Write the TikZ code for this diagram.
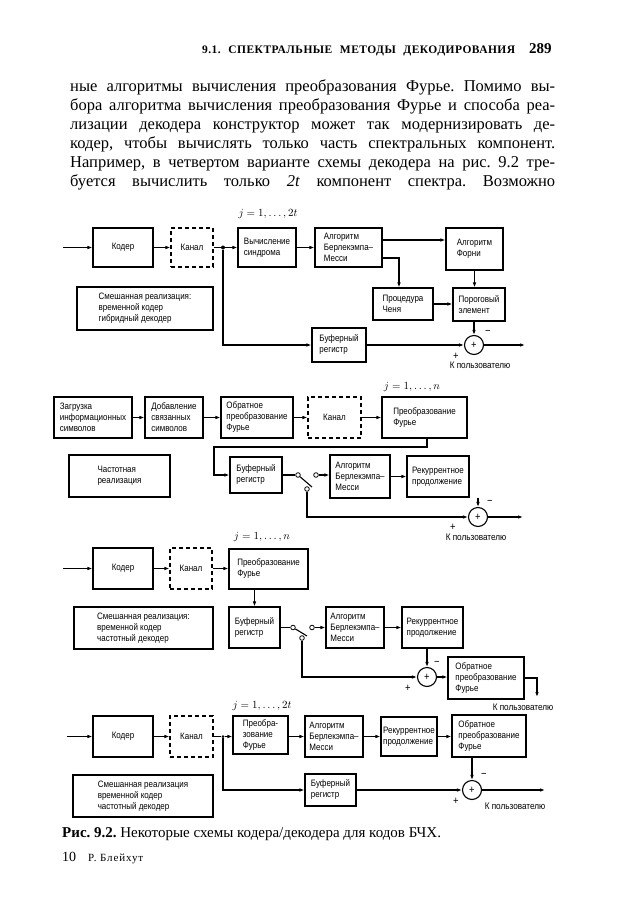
\documentclass[tikz,border=0pt]{standalone}
\usepackage{fontspec}
\setmainfont{Liberation Serif}
\newfontfamily\boxfont[FakeStretch=0.86]{Liberation Sans}
\newfontfamily\hdrfont[LetterSpace=4]{Liberation Serif}
\newfontfamily\ftfont[LetterSpace=8]{Liberation Serif}
\usetikzlibrary{arrows.meta}
\newcommand\blk[7][blk]{\node[#1,minimum width={#5pt-#3pt},minimum height={#6pt-#4pt}] (#2) at ({(#3+#5)/2},{(#4+#6)/2}) {#7};}
\tikzset{
  blk/.style={draw,line width=1.1pt,inner sep=1.5pt,align=left,font=\boxfont\fontsize{9.3}{11}\selectfont},
  dblk/.style={blk,dash pattern=on 4pt off 3pt},
  ln/.style={line width=1.1pt},
  arr/.style={ln,-{Latex[length=5pt,width=3.6pt]}},
  sumc/.style={circle,draw,line width=1.1pt,minimum size=19pt,inner sep=0pt,font=\boxfont\fontsize{11}{11}\selectfont},
  term/.style={circle,draw,fill=white,line width=0.8pt,minimum size=4.6pt,inner sep=0pt},
  dot/.style={circle,fill,minimum size=4pt,inner sep=0pt},
  lbl/.style={inner sep=0pt,font=\boxfont\fontsize{9.5}{10}\selectfont},
  sgn/.style={inner sep=0pt,font=\boxfont\fontsize{11}{11}\selectfont},
  jlab/.style={inner sep=0pt,font=\fontsize{11}{12}\selectfont},
  body/.style={anchor=base west,inner sep=0pt,font=\frenchspacing\fontsize{16.5}{19}\selectfont},
}
\begin{document}
\begin{tikzpicture}[x=1pt,y=-1pt]
\useasboundingbox (0,0) rectangle (637,900);
% ---------- page text ----------
\node[anchor=base west,inner sep=0pt,font=\hdrfont\bfseries\fontsize{11.5}{12}\selectfont] (hdr) at (202,53) {\makebox[313pt][s]{9.1.\ СПЕКТРАЛЬНЫЕ МЕТОДЫ ДЕКОДИРОВАНИЯ}};
\node[anchor=base west,inner sep=0pt,font=\bfseries\fontsize{15}{16}\selectfont] (pg) at (529,53) {289};
\node[body] (l1) at (70,91) {\makebox[485pt][s]{ные алгоритмы вычисления преобразования Фурье. Помимо вы-}};
\node[body] (l2) at (70,110) {\makebox[485pt][s]{бора алгоритма вычисления преобразования Фурье и способа реа-}};
\node[body] (l3) at (70,129) {\makebox[485pt][s]{лизации декодера конструктор может так модернизировать де-}};
\node[body] (l4) at (70,148) {\makebox[485pt][s]{кодер, чтобы вычислять только часть спектральных компонент.}};
\node[body] (l5) at (70,167) {\makebox[485pt][s]{Например, в четвертом варианте схемы декодера на рис. 9.2 тре-}};
\node[body] (l6) at (70,186) {\makebox[485pt][s]{буется вычислить только \textit{2t} компонент спектра. Возможно}};
% ---------- diagram 1 ----------
\coordinate (in1) at (63,247.5);
\blk{kod1}{93}{228}{153}{267}{Кодер}
\blk[dblk]{kan1}{171}{228}{213}{267}{Канал}
\node[dot] (j1) at (223,247.5) {};
\blk{syn1}{238}{228}{296}{267}{Вычисление\\синдрома}
\node[jlab] (jl1) at (268,214) {$j=1,\ldots,2t$};
\blk{bm1}{315}{228}{382}{267}{Алгоритм\\Берлекэмпа–\\Месси}
\blk{forn1}{446}{228}{503}{270}{Алгоритм\\Форни}
\blk{chen1}{373}{288}{433}{320}{Процедура\\Ченя}
\blk{thr1}{453}{288}{505}{321}{Пороговый\\элемент}
\node[sumc] (sum1) at (474,345) {+};
\blk{buf1}{312}{328}{366}{362}{Буферный\\регистр}
\blk{mix1}{77}{287}{213}{330}{Смешанная реализация:\\временной кодер\\гибридный декодер}
\coordinate (out1) at (525,345);
\coordinate (bf1) at (382,240);
\coordinate (bc1) at (382,258);
\draw[arr] (in1) -- (kod1.west);
\draw[arr] (kod1.east) -- (kan1.west);
\draw[ln] (kan1.east) -- (j1);
\draw[arr] (j1) -- (syn1.west);
\draw[arr] (syn1.east) -- (bm1.west);
\draw[arr] (bf1) -- (bf1 -| forn1.west);
\draw[arr] (bc1) -| ([xshift=-4pt]chen1.north);
\draw[arr] (chen1.east) -- (chen1.east -| thr1.west);
\draw[arr] (forn1.south) -- (forn1.south |- thr1.north);
\draw[arr] (sum1.north |- thr1.south) -- (sum1.north);
\draw[arr] (j1) |- (buf1.west);
\draw[arr] (buf1.east) -- (sum1.west);
\draw[arr] (sum1.east) -- (out1);
\node[sgn] (p1) at (456,356) {+};
\node[sgn] (m1) at (488,332) {−};
\node[lbl] (u1) at (480,365) {К пользователю};
% ---------- diagram 2 ----------
\blk{zag2}{54}{397}{132}{438}{Загрузка\\информационных\\символов}
\blk{dob2}{145}{397}{203}{438}{Добавление\\связанных\\символов}
\blk{obr2}{221}{397}{293}{438}{Обратное\\преобразование\\Фурье}
\blk[dblk]{kan2}{308}{397}{361}{438}{Канал}
\blk{pf2}{382}{397}{467}{438}{Преобразование\\Фурье}
\node[jlab] (jl2) at (412,387) {$j=1,\ldots,n$};
\blk{buf2}{230}{457}{282}{493}{Буферный\\регистр}
\blk{freq2}{69}{455}{170}{497}{Частотная\\реализация}
\blk{bm2}{330}{455}{390}{498}{Алгоритм\\Берлекэмпа–\\Месси}
\blk{rec2}{407}{456}{469}{497}{Рекуррентное\\продолжение}
\node[sumc] (sum2) at (478,517) {+};
\node[term] (sw2a) at (298,475) {};
\node[term] (sw2b) at (307,489) {};
\node[term] (sw2c) at (316,475) {};
\coordinate (sw2e) at (312,487);
\coordinate (t2) at (214,447);
\coordinate (out2) at (523,517);
\draw[arr] (zag2.east) -- (dob2.west);
\draw[arr] (dob2.east) -- (obr2.west);
\draw[arr] (obr2.east) -- (kan2.west);
\draw[arr] (kan2.east) -- (pf2.west);
\draw[arr] ([xshift=2.5pt]pf2.south) |- (t2) |- (buf2.west);
\draw[ln] (buf2.east) -- (sw2a);
\draw[ln] (sw2a) -- (sw2e);
\draw[arr] (sw2c) -- (sw2c -| bm2.west);
\draw[arr] (bm2.east) -- (bm2.east -| rec2.west);
\draw[arr] (sum2.north |- rec2.south) -- (sum2.north);
\draw[arr] (sw2b) |- (sum2.west);
\draw[arr] (sum2.east) -- (out2);
\node[sgn] (p2) at (453,527) {+};
\node[sgn] (m2) at (490,502) {−};
\node[lbl] (u2) at (476,537) {К пользователю};
% ---------- diagram 3 ----------
\coordinate (in3) at (63,568.5);
\blk{kod3}{93}{548}{153}{589}{Кодер}
\blk[dblk]{kan3}{170}{548}{212}{589}{Канал}
\blk{pf3}{229}{549}{308}{589}{Преобразование\\Фурье}
\node[jlab] (jl3) at (262,537) {$j=1,\ldots,n$};
\blk{buf3}{229}{607}{280}{648}{Буферный\\регистр}
\blk{mix3}{74}{607}{213}{649}{Смешанная реализация:\\временной кодер\\частотный декодер}
\blk{bm3}{326}{607}{384}{648}{Алгоритм\\Берлекэмпа–\\Месси}
\blk{rec3}{402}{607}{463}{648}{Рекуррентное\\продолжение}
\node[sumc] (sum3) at (427,677) {+};
\blk{obr3}{448}{657}{524}{699}{Обратное\\преобразование\\Фурье}
\node[term] (sw3a) at (293,627.5) {};
\node[term] (sw3b) at (302,638) {};
\node[term] (sw3c) at (312,627.5) {};
\coordinate (sw3e) at (307,636);
\coordinate (out3) at (537,697);
\draw[arr] (in3) -- (kod3.west);
\draw[arr] (kod3.east) -- (kan3.west);
\draw[arr] (kan3.east) -- (kan3.east -| pf3.west);
\draw[arr] (buf3.north |- pf3.south) -- (buf3.north);
\draw[ln] (buf3.east) -- (sw3a);
\draw[ln] (sw3a) -- (sw3e);
\draw[arr] (sw3c) -- (sw3c -| bm3.west);
\draw[arr] (bm3.east) -- (rec3.west);
\draw[arr] (sum3.north |- rec3.south) -- (sum3.north);
\draw[arr] (sw3b) |- (sum3.west);
\draw[arr] (sum3.east) -- (sum3.east -| obr3.west);
\draw[arr] (obr3.east) -| (out3);
\node[sgn] (p3) at (408,688) {+};
\node[sgn] (m3) at (437,663) {−};
\node[lbl] (u3) at (523,707) {К пользователю};
% ---------- diagram 4 ----------
\coordinate (in4) at (67,736.5);
\blk{kod4}{93}{716}{153}{757}{Кодер}
\blk[dblk]{kan4}{170}{716}{213}{757}{Канал}
\node[dot,minimum size=3pt] (j4) at (223,736.5) {};
\blk{pf4}{233}{716}{288}{754}{Преобра-\\зование\\Фурье}
\node[jlab] (jl4) at (262,706) {$j=1,\ldots,2t$};
\blk{bm4}{305}{716}{363}{757}{Алгоритм\\Берлекэмпа–\\Месси}
\blk{rec4}{381}{717}{437}{756}{Рекуррентное\\продолжение}
\blk{obr4}{452}{715}{526}{757}{Обратное\\преобразование\\Фурье}
\node[sumc] (sum4) at (472,790) {+};
\blk{buf4}{305}{774}{356}{806}{Буферный\\регистр}
\blk{mix4}{73}{775}{213}{817}{Смешанная реализация\\временной кодер\\частотный декодер}
\coordinate (out4) at (545,790);
\draw[arr] (in4) -- (kod4.west);
\draw[arr] (kod4.east) -- (kan4.west);
\draw[ln] (kan4.east) -- (j4);
\draw[arr] (j4) -- (j4 -| pf4.west);
\draw[arr] (bm4.west -| pf4.east) -- (bm4.west);
\draw[arr] (bm4.east) -- (bm4.east -| rec4.west);
\draw[arr] (rec4.east) -- (rec4.east -| obr4.west);
\draw[arr] (sum4.north |- obr4.south) -- (sum4.north);
\draw[arr] (j4) |- (buf4.west);
\draw[arr] (buf4.east) -- (sum4.west);
\draw[arr] (sum4.east) -- (out4);
\node[sgn] (p4) at (456,801) {+};
\node[sgn] (m4) at (484,775) {−};
\node[lbl] (u4) at (515,806) {К пользователю};
% ---------- caption and footer ----------
\node[anchor=base west,inner sep=0pt,font=\frenchspacing\fontsize{15}{16}\selectfont] (cap) at (62,837) {\textbf{Рис. 9.2.} Некоторые схемы кодера/декодера для кодов БЧХ.};
\node[anchor=base west,inner sep=0pt,font=\fontsize{14}{16}\selectfont] (ft) at (62,861) {10\hspace{12pt}{\ftfont\fontsize{11}{12}\selectfont Р. Блейхут}};
\end{tikzpicture}
\end{document}
